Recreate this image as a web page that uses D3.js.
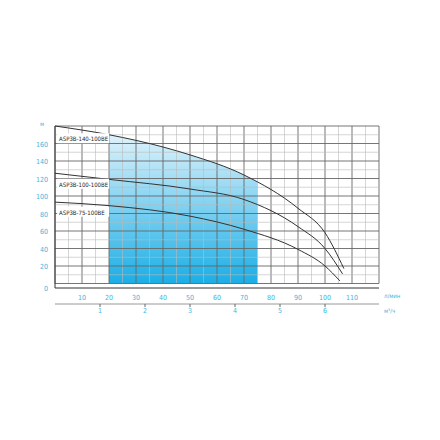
<!DOCTYPE html><html><head><script src="https://cdn.jsdelivr.net/npm/d3@7"></script>
<style>body{margin:0;background:#fff}text{font-family:"Liberation Sans Narrow","DejaVu Sans Condensed",sans-serif}</style></head><body><svg id="c" width="440" height="440"></svg><script>
const xTicks=[10,20,30,40,50,60,70,80,90,100,110];
const yTicks=[20,40,60,80,100,120,140,160];
const m3Ticks=[1,2,3,4,5,6];
const names=["ASP3B-140-100BE","ASP3B-100-100BE","ASP3B-75-100BE"];
const q140=[0,20,40,50,70,90,100,107];const h140=[180,170,156,147,124,86,58,17];
const q100=[0,20,50,70,90,100,106.5];const h100=[126,119,108,96,65,40,11];
const q75=[0,20,50,70,90,100,105.5];const h75=[93,89,77,62,39,20,3];
const svg=d3.select("#c");
const x=d3.scaleLinear([0,120],[55,379]),y=d3.scaleLinear([0,180],[283.5,126]);
const defs=svg.append("defs");const gr=defs.append("linearGradient").attr("id","gr").attr("x1",0).attr("x2",0).attr("y1",0).attr("y2",1);
gr.append("stop").attr("offset",0).attr("stop-color","#def2fb");gr.append("stop").attr("offset",1).attr("stop-color","#1aaee6");
const lineGen=d3.line().x(d=>x(d[0])).y(d=>y(d[1])).curve(d3.curveMonotoneX);
const pts=q140.map((q,i)=>[q,h140[i]]);
const areaLayer=svg.append("g");
const tmp=svg.append("path").attr("d",lineGen(pts)).attr("fill","none");
const node=tmp.node(),L=node.getTotalLength();const topPts=[];
for(let s=0;s<=L;s+=0.5){const p=node.getPointAtLength(s);if(p.x>=x(20)&&p.x<=x(75))topPts.push([p.x,p.y]);}
tmp.remove();
areaLayer.append("path").attr("d","M"+x(20)+","+y(0)+"L"+topPts.map(p=>p.join(",")).join("L")+"L"+x(75)+","+y(0)+"Z").attr("fill","url(#gr)");
const g=svg.append("g");
for(let v=0;v<=120;v+=5)g.append("line").attr("x1",x(v)).attr("x2",x(v)).attr("y1",y(0)).attr("y2",y(180)).attr("stroke",v%10?"#bbb":"#666").attr("stroke-width",v%10?0.6:0.9);
for(let v=0;v<=180;v+=10)g.append("line").attr("x1",x(0)).attr("x2",x(120)).attr("y1",y(v)).attr("y2",y(v)).attr("stroke",v%20?"#bbb":"#666").attr("stroke-width",v%20?0.6:0.9);
[[q140,h140],[q100,h100],[q75,h75]].forEach(([q,h])=>svg.append("path").attr("d",lineGen(q.map((v,i)=>[v,h[i]]))).attr("fill","none").attr("stroke","#333").attr("stroke-width",1));
[166,114,82].forEach((ly,i)=>{svg.append("rect").attr("x",x(0.8)).attr("y",y(ly)-5).attr("width",52).attr("height",10).attr("fill","#fff");svg.append("text").attr("x",x(1.5)).attr("y",y(ly)+3).attr("font-size",6).attr("fill","#222").text(names[i]);});
const blue="#3fb5dc";
svg.append("line").attr("x1",x(0)).attr("x2",x(0)).attr("y1",y(180)).attr("y2",288).attr("stroke","#333");
svg.append("line").attr("x1",x(0)).attr("x2",x(120)).attr("y1",288).attr("y2",288).attr("stroke","#333");
yTicks.forEach(v=>svg.append("text").attr("x",48).attr("y",y(v)+3).attr("text-anchor","end").attr("font-size",7).attr("fill",blue).text(v));
svg.append("text").attr("x",48).attr("y",291).attr("text-anchor","end").attr("font-size",7).attr("fill",blue).text(0);
svg.append("text").attr("x",40).attr("y",126).attr("font-size",6).attr("fill",blue).text("м");
xTicks.forEach(v=>svg.append("text").attr("x",x(v)).attr("y",300).attr("text-anchor","middle").attr("font-size",7).attr("fill",blue).text(v));
svg.append("text").attr("x",384).attr("y",298).attr("font-size",6).attr("fill",blue).text("л/мин");
svg.append("line").attr("x1",x(0)).attr("x2",x(120)).attr("y1",304).attr("y2",304).attr("stroke","#999");
m3Ticks.forEach(v=>{const px=x(v*1000/60);svg.append("line").attr("x1",px).attr("x2",px).attr("y1",304).attr("y2",307).attr("stroke","#666");svg.append("text").attr("x",px).attr("y",313).attr("text-anchor","middle").attr("font-size",7).attr("fill",blue).text(v);});
svg.append("text").attr("x",384).attr("y",313).attr("font-size",6).attr("fill",blue).text("м³/ч");
</script></body></html>
